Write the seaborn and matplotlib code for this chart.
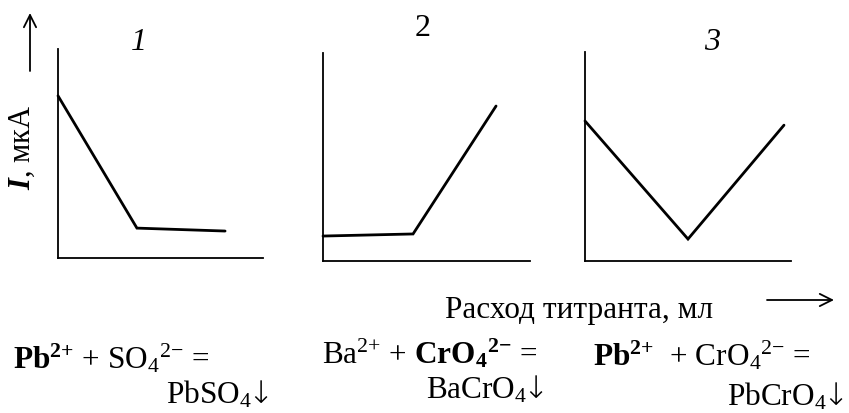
import matplotlib
matplotlib.use("Agg")
import matplotlib.pyplot as plt
import seaborn as sns

# Amperometric titration curves: current vs. titrant volume (schematic units)
titrant_1 = [0.0, 3.85, 8.15]
current_1 = [7.76, 1.43, 1.29]

titrant_2 = [0.0, 4.35, 8.36]
current_2 = [1.20, 1.30, 7.45]

titrant_3 = [0.0, 5.00, 9.66]
current_3 = [6.70, 1.05, 6.50]

panel_labels = ["1", "2", "3"]
panel_label_styles = ["italic", "normal", "italic"]

x_label = "Расход титранта, мл"
y_label = r"$\mathbfit{I}$, мкА"

reactions_top = [
    r"$\mathbf{Pb}^{\mathbf{2{+}}}$ + SO$_4{}^{2{-}}$ =",
    r"Ba$^{2{+}}$ + $\mathbf{CrO}_\mathbf{4}{}^{\mathbf{2{-}}}$ =",
    r"$\mathbf{Pb}^{\mathbf{2{+}}}$  + CrO$_4{}^{2{-}}$ =",
]
reactions_bottom = [
    r"PbSO$_4\!\mathsf{↓}$",
    r"BaCrO$_4\!\mathsf{↓}$",
    r"PbCrO$_4\!\mathsf{↓}$",
]

sns.set_style("white")
plt.rcParams["font.family"] = ["Liberation Serif", "DejaVu Serif"]
plt.rcParams["text.color"] = "black"
plt.rcParams["mathtext.fontset"] = "custom"
plt.rcParams["mathtext.rm"] = "Liberation Serif"
plt.rcParams["mathtext.it"] = "Liberation Serif:italic"
plt.rcParams["mathtext.bf"] = "Liberation Serif:bold"
plt.rcParams["mathtext.bfit"] = "Liberation Serif:italic:bold"
plt.rcParams["mathtext.sf"] = "DejaVu Sans:extralight"

W, H = 849, 414
fig = plt.figure(figsize=(W / 100, H / 100), dpi=100)
fig.patch.set_facecolor("white")


def px_axes(left, right, top, bottom):
    return fig.add_axes([left / W, 1 - bottom / H, (right - left) / W, (bottom - top) / H])


boxes = [(58, 263, 50, 259), (323, 530, 54, 262), (585, 791, 53, 262)]
series = [(titrant_1, current_1), (titrant_2, current_2), (titrant_3, current_3)]

for box, (xs, ys) in zip(boxes, series):
    ax = px_axes(*box)
    sns.lineplot(x=xs, y=ys, ax=ax, color="black", linewidth=2.0, sort=False)
    for line in ax.lines:
        line.set_clip_on(False)
        line.set_solid_joinstyle("miter")
    ax.set_xlim(0, 10)
    ax.set_ylim(0, 10)
    ax.set_xticks([])
    ax.set_yticks([])
    ax.set_facecolor("none")
    sns.despine(ax=ax)
    for side in ("left", "bottom"):
        ax.spines[side].set_color("black")
        ax.spines[side].set_linewidth(1.3)

FS = 22.5


def ftext(x, y, s, **kw):
    kw.setdefault("fontsize", FS)
    fig.text(x / W, 1 - y / H, s, **kw)


# panel numbers
for (cx, cy), lab, st in zip([(139, 42), (423, 28), (712, 42)], panel_labels, panel_label_styles):
    ftext(cx, cy, lab, ha="center", va="center", style=st, fontsize=23)

# axis captions
ftext(22, 147, y_label, ha="center", va="center", rotation=90, fontsize=22)
ftext(445, 318, x_label, ha="left", va="baseline")

arrow_kw = dict(arrowstyle="->", lw=1.3, color="black", mutation_scale=22,
                shrinkA=0, shrinkB=0)
fig.add_artist(matplotlib.patches.FancyArrowPatch(
    (30 / W, 1 - 72 / H), (30 / W, 1 - 14 / H), transform=fig.transFigure, **arrow_kw))
fig.add_artist(matplotlib.patches.FancyArrowPatch(
    (767 / W, 1 - 301 / H), (834 / W, 1 - 301 / H), transform=fig.transFigure, **arrow_kw))

# reaction equations
for (x1, y1), s in zip([(13, 369), (322, 364), (593, 366)], reactions_top):
    ftext(x1, y1, s, ha="left", va="baseline")
for (x2, y2), s in zip([(166, 404), (426, 399), (727, 406)], reactions_bottom):
    ftext(x2, y2, s, ha="left", va="baseline")

fig.savefig("out.png", dpi=100, facecolor="white")
